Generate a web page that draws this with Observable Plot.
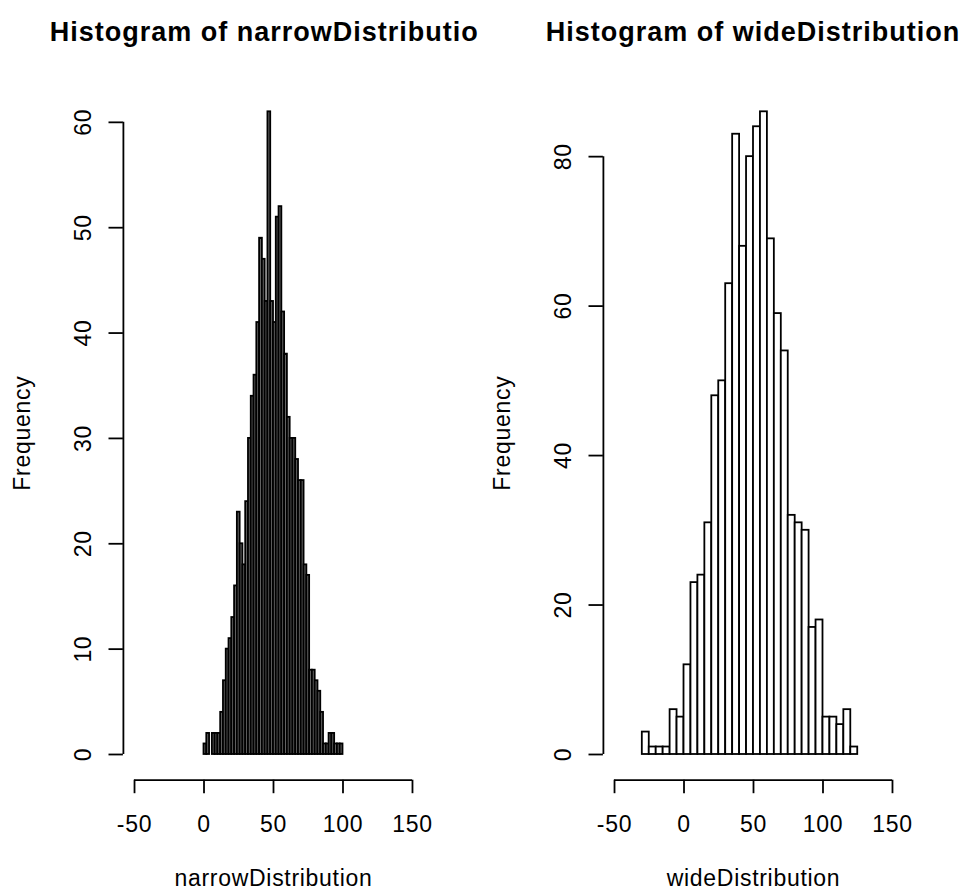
<!DOCTYPE html>
<html><head><meta charset="utf-8">
<script src="https://cdn.jsdelivr.net/npm/d3@7"></script>
<script src="https://cdn.jsdelivr.net/npm/@observablehq/plot@0.6"></script>
<style>
body{margin:0;background:#fff;font-family:"Liberation Sans",Arial,sans-serif;}
#wrap{display:flex;width:963px;height:893px;overflow:hidden;}
.panel{position:relative;overflow:hidden;height:893px;flex:none;}
.title{height:70px;position:relative;}
.title span{position:absolute;top:18px;white-space:nowrap;font-weight:bold;font-size:27px;line-height:28px;letter-spacing:1px;transform:translateX(-50%);color:#000;}
svg{display:block;}
</style></head><body><div id="wrap"></div>
<script>
// narrowDistribution: bins of width 2 starting at 0
const narrowBreakStart = 0;
const narrowBinWidth = 2;
const narrowCounts = [1,2,0,2,2,2,4,7,10,11,13,16,23,20,18,24,30,34,36,41,49,47,43,61,43,41,51,52,42,38,32,30,30,28,26,26,18,17,8,8,7,6,4,1,1,2,2,1,1,1];
// wideDistribution: bins of width 5 starting at -30
const wideBreakStart = -30;
const wideBinWidth = 5;
const wideCounts = [3,1,1,1,6,5,12,23,24,31,48,50,63,83,68,80,84,86,69,59,54,32,31,30,17,18,5,5,4,6,1];
const xLimits = [-50, 150];
const xTicks = [-50, 0, 50, 100, 150];
const narrowYTicks = [0, 10, 20, 30, 40, 50, 60];
const wideYTicks = [0, 20, 40, 60, 80];
const titles = ["Histogram of narrowDistribution", "Histogram of wideDistribution"];
const xLabels = ["narrowDistribution", "wideDistribution"];
const yLabel = "Frequency";
const barFills = ["#666", "white"];

const FONT = '"Liberation Sans", Arial, sans-serif';

function panel(counts, start, bw, yTicks, title, xlab, width, fill) {
  const bins = counts.map((c, i) => ({x1: start + i * bw, x2: start + (i + 1) * bw, count: c}));
  const ymax = d3.max(counts);
  const span = xLimits[1] - xLimits[0];
  const xd = [xLimits[0] - 0.04 * span, xLimits[1] + 0.04 * span];
  const yd = [-0.04 * ymax, 1.04 * ymax];
  const div = document.createElement("div");
  div.className = "panel";
  div.style.width = width + "px";
  const t = document.createElement("div");
  t.className = "title";
  const s = document.createElement("span");
  s.textContent = title;
  s.style.left = "273px";
  t.appendChild(s);
  div.appendChild(t);
  const chart = Plot.plot({
    width, height: 823,
    marginTop: 15.6, marginBottom: 113.3, marginLeft: 122.9, marginRight: width - 423.1,
    x: {domain: xd, axis: null},
    y: {domain: yd, axis: null},
    style: {fontFamily: FONT, fontSize: "23px", letterSpacing: "0.7px", color: "#000", background: "transparent", overflow: "visible"},
    marks: [
      Plot.rectY(bins, {x1: "x1", x2: "x2", y1: () => 0, y2: "count", fill, stroke: "#000", strokeWidth: 1.8, inset: 0}),
      Plot.ruleY([yd[0]], {x1: xTicks[0], x2: xTicks[xTicks.length - 1], stroke: "#000", strokeWidth: 1.8}),
      Plot.axisX(xTicks, {tickSize: 13.5, tickPadding: 21.5, tickFormat: d => String(d), fontSize: 23, strokeWidth: 1.8, label: null}),
      Plot.ruleX([xd[0]], {y1: yTicks[0], y2: yTicks[yTicks.length - 1], stroke: "#000", strokeWidth: 1.8}),
      Plot.axisY(yTicks, {tickSize: 14.4, tickFormat: () => "", strokeWidth: 1.8, label: null}),
      Plot.text(yTicks, {y: d => d, text: d => String(d), frameAnchor: "left", rotate: -90, textAnchor: "middle", lineAnchor: "middle", dx: -40, fontSize: 23}),
      Plot.text([xlab], {frameAnchor: "bottom", dy: 98, textAnchor: "middle", lineAnchor: "middle", fontSize: 23}),
      Plot.text([yLabel], {frameAnchor: "left", rotate: -90, dx: -101, textAnchor: "middle", lineAnchor: "middle", fontSize: 23})
    ]
  });
  div.appendChild(chart);
  return div;
}

const wrap = document.getElementById("wrap");
wrap.appendChild(panel(narrowCounts, narrowBreakStart, narrowBinWidth, narrowYTicks, titles[0], xLabels[0], 480, barFills[0]));
wrap.appendChild(panel(wideCounts, wideBreakStart, wideBinWidth, wideYTicks, titles[1], xLabels[1], 483, barFills[1]));
</script>
</body></html>
